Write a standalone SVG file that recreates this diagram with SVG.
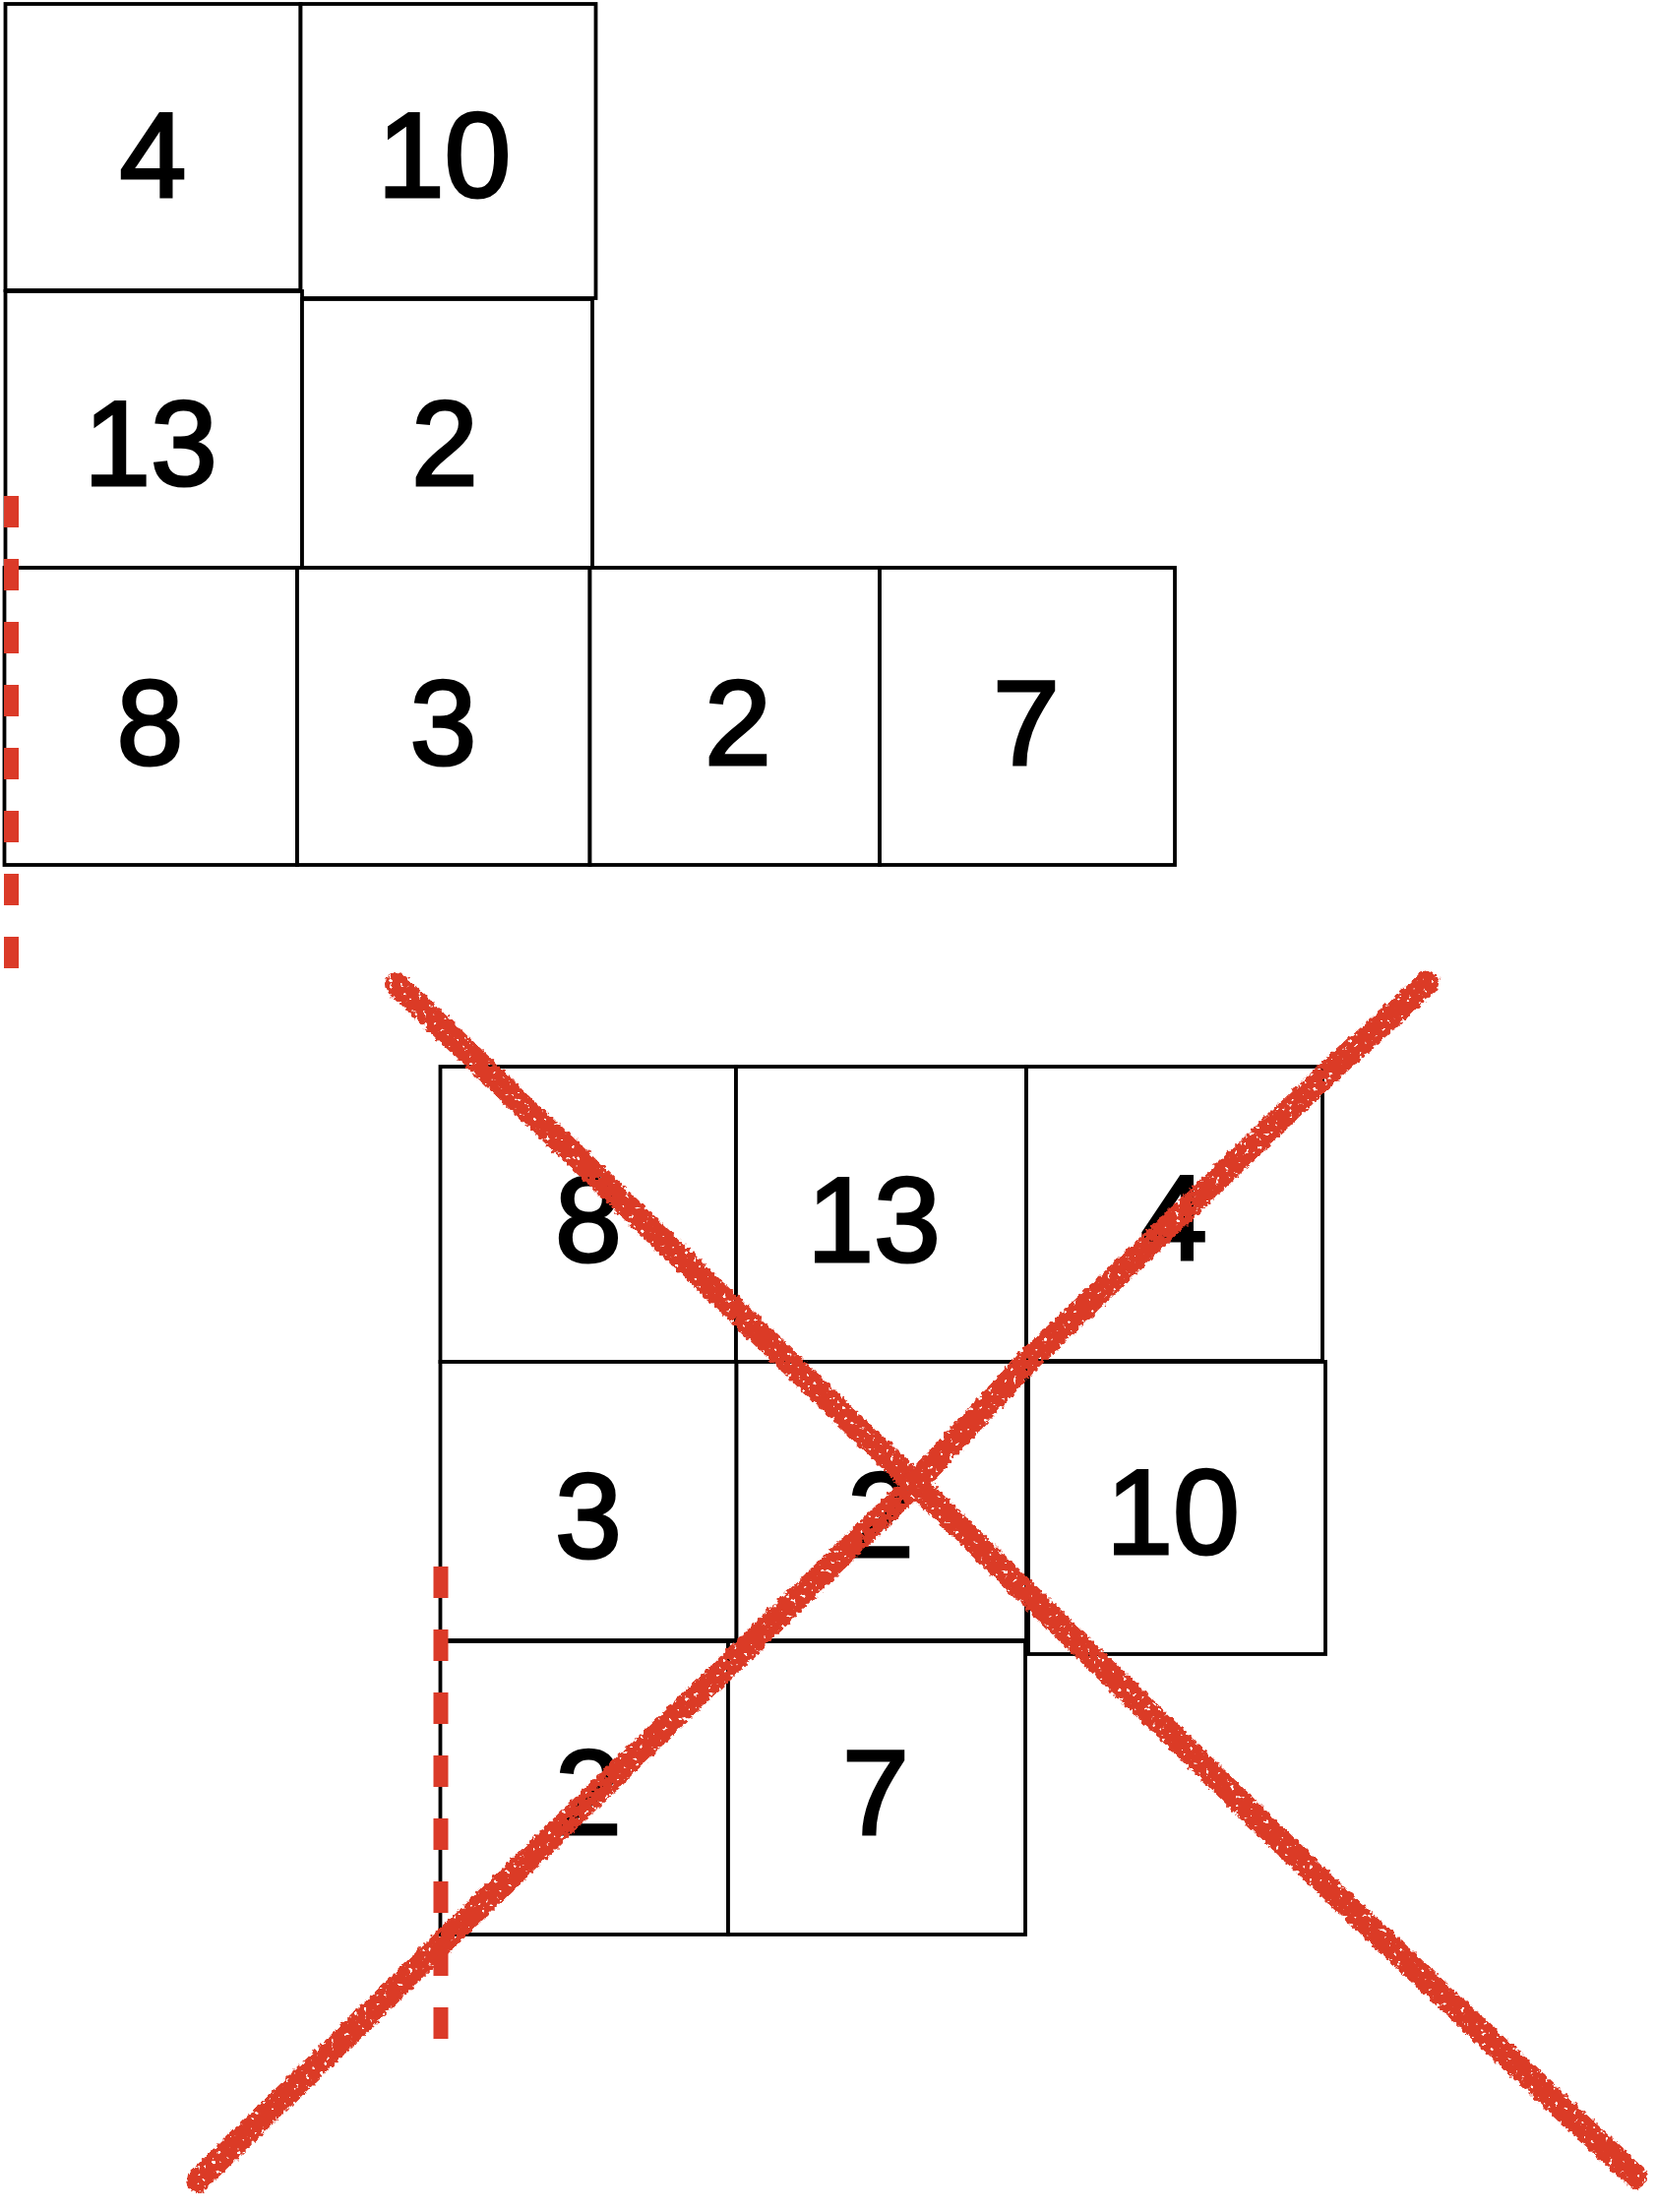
<svg xmlns="http://www.w3.org/2000/svg" width="1684" height="2248" viewBox="0 0 1684 2248">
<style>
.cell{fill:#fff;stroke:#000;stroke-width:3.8}
.num{font-family:"Liberation Sans",Arial,Helvetica,sans-serif;font-size:122px;fill:#000;stroke:#000;stroke-width:3;text-anchor:middle}
.dash{fill:none;stroke:#DB3A28;stroke-width:15;stroke-dasharray:32 32}
.cross{fill:none;stroke:#DB3A28;stroke-width:24;stroke-linecap:round;stroke-linejoin:round;filter:url(#rough)}
</style>
<defs>
<filter id="rough" filterUnits="userSpaceOnUse" x="150" y="950" width="1560" height="1320">
<feTurbulence type="fractalNoise" baseFrequency="0.22" numOctaves="2" seed="4" result="n"/>
<feDisplacementMap in="SourceGraphic" in2="n" scale="7" xChannelSelector="R" yChannelSelector="G" result="d"/>
<feTurbulence type="fractalNoise" baseFrequency="0.2" numOctaves="2" seed="11" result="n2"/>
<feColorMatrix in="n2" type="matrix" values="0 0 0 0 0  0 0 0 0 0  0 0 0 0 0  -14 0 0 0 10.6" result="mask"/>
<feComposite in="d" in2="mask" operator="in"/>
</filter>
</defs>

<g id="top-grid">
<g id="t-4"><rect class="cell" x="5.5" y="4" width="300" height="291"/><text class="num" x="155.5" y="200">4</text></g>
<g id="t-10"><rect class="cell" x="305.5" y="4" width="300" height="299"/><text class="num" x="451.5" y="200">10</text></g>
<g id="t-13"><rect class="cell" x="5.5" y="296" width="301.5" height="281"/><text class="num" x="153" y="493">13</text></g>
<g id="t-2"><rect class="cell" x="307" y="304" width="295" height="273"/><text class="num" x="452" y="493">2</text></g>
<g id="t-8"><rect class="cell" x="4.5" y="577" width="297.5" height="302"/><text class="num" x="152.5" y="777">8</text></g>
<g id="t-3"><rect class="cell" x="302" y="577" width="297.5" height="302"/><text class="num" x="450.5" y="777">3</text></g>
<g id="t-2b"><rect class="cell" x="599.5" y="577" width="294.5" height="302"/><text class="num" x="750" y="777">2</text></g>
<g id="t-7"><rect class="cell" x="894" y="577" width="300" height="302"/><text class="num" x="1043" y="777">7</text></g>
</g>

<g id="bottom-grid">
<g id="b-8"><rect class="cell" x="447.5" y="1084" width="300.5" height="300"/><text class="num" x="598" y="1282">8</text></g>
<g id="b-13"><rect class="cell" x="748" y="1084" width="295" height="300"/><text class="num" x="888" y="1282">13</text></g>
<g id="b-4"><rect class="cell" x="1043" y="1084" width="301" height="299"/><text class="num" x="1193" y="1280">4</text></g>
<g id="b-3"><rect class="cell" x="447.5" y="1384" width="301" height="283"/><text class="num" x="598" y="1583">3</text></g>
<g id="b-2"><rect class="cell" x="748.5" y="1384" width="294.5" height="283"/><text class="num" x="895" y="1582">2</text></g>
<g id="b-10"><rect class="cell" x="1045" y="1384" width="302" height="297"/><text class="num" x="1192" y="1579">10</text></g>
<g id="b-2b"><rect class="cell" x="447.5" y="1668" width="292.5" height="298"/><text class="num" x="598" y="1864">2</text></g>
<g id="b-7"><rect class="cell" x="740" y="1668" width="302" height="298"/><text class="num" x="890" y="1864">7</text></g>
</g>

<g id="connectors">
<line class="dash" x1="11.5" y1="504" x2="11.5" y2="984"/>
<line class="dash" x1="448" y1="1592" x2="448" y2="2072"/>
<polyline class="cross" points="403,1000 610,1199 929,1507 1362,1930 1662,2212"/>
<polyline class="cross" points="201,2216 766,1667 929,1509 1045,1383 1350,1090 1451,999"/>
</g>
</svg>
